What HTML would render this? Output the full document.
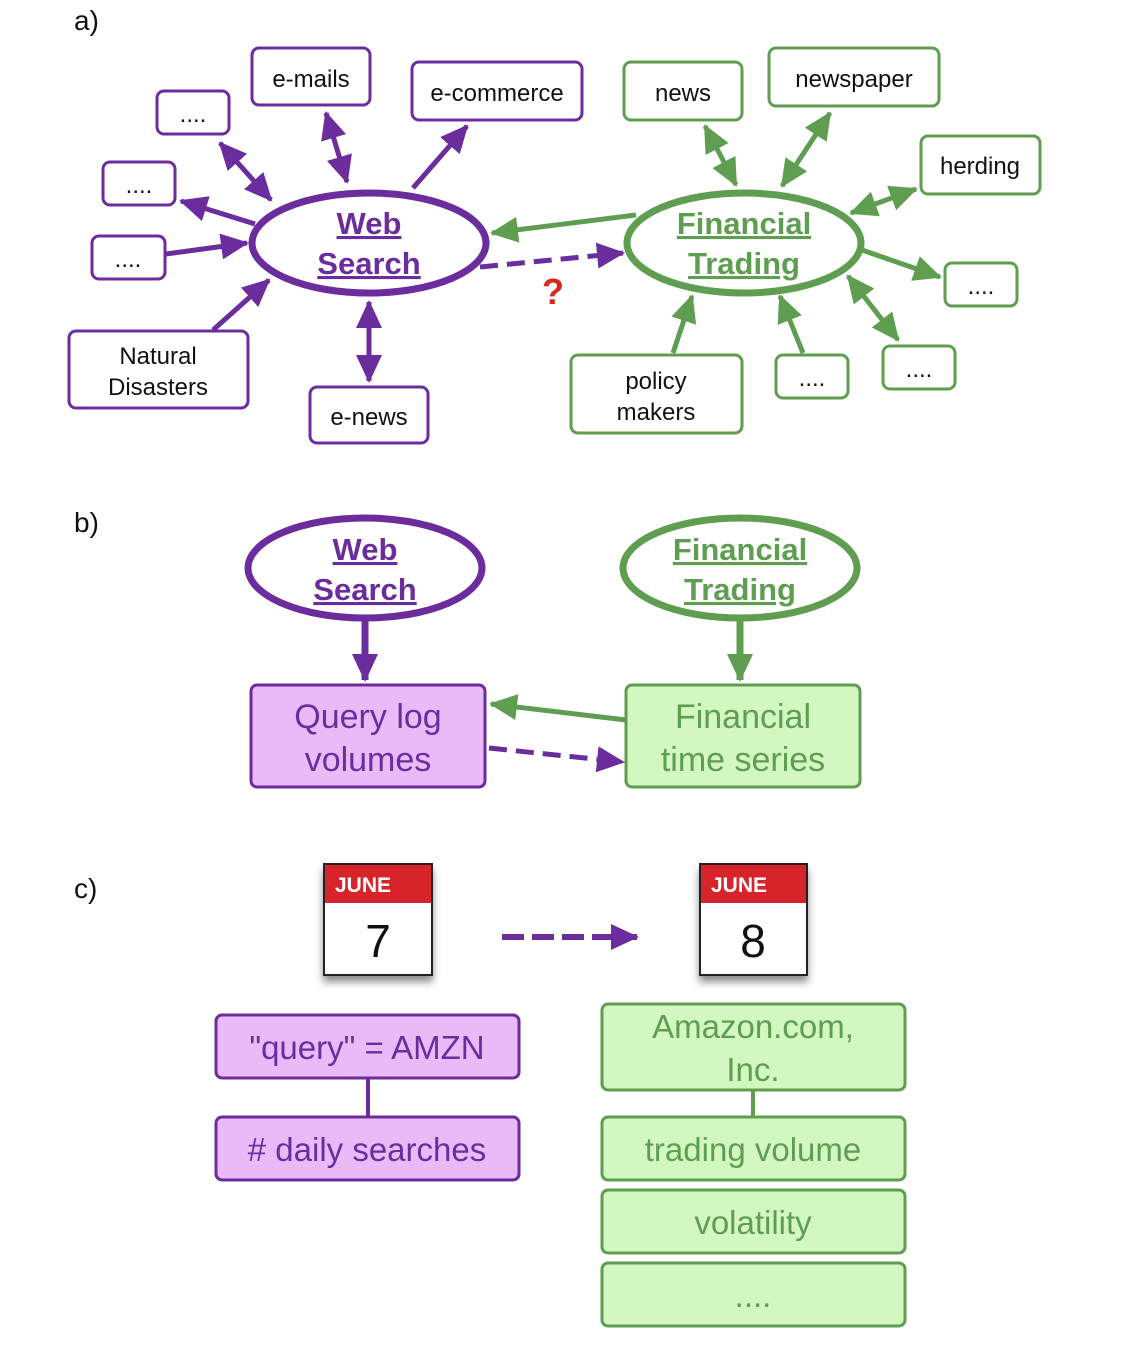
<!DOCTYPE html>
<html><head><meta charset="utf-8"><style>
html,body{margin:0;padding:0;background:#fff;}
svg{display:block;font-family:"Liberation Sans",Arial,sans-serif;}
.up{text-decoration:underline;fill:#6b2d9e;}
.ug{text-decoration:underline;fill:#5f9e51;}
</style></head><body>
<svg width="1126" height="1350" viewBox="0 0 1126 1350" xmlns="http://www.w3.org/2000/svg">
<defs>
<marker id="ap" markerUnits="userSpaceOnUse" markerWidth="32" markerHeight="30" refX="26" refY="13" orient="auto-start-reverse" viewBox="0 0 32 26"><path d="M0,0 L28,13 L0,26 z" fill="#6b2d9e"/></marker>
<marker id="ag" markerUnits="userSpaceOnUse" markerWidth="32" markerHeight="30" refX="26" refY="13" orient="auto-start-reverse" viewBox="0 0 32 26"><path d="M0,0 L28,13 L0,26 z" fill="#5f9e51"/></marker>
<filter id="sh" x="-20%" y="-20%" width="140%" height="150%"><feDropShadow dx="0" dy="6" stdDeviation="4" flood-color="#000" flood-opacity="0.45"/></filter>
</defs>
<g font-size="28" fill="#111">
<text x="74" y="30">a)</text><text x="74" y="532">b)</text><text x="74" y="898">c)</text>
</g>

<g fill="#fff" stroke="#6b2d9e" stroke-width="3">
<rect x="157" y="91" width="72" height="43" rx="7"/>
<rect x="252" y="48" width="118" height="57" rx="7"/>
<rect x="412" y="62" width="170" height="58" rx="7"/>
<rect x="103" y="162" width="72" height="43" rx="7"/>
<rect x="92" y="236" width="73" height="43" rx="7"/>
<rect x="69" y="331" width="179" height="77" rx="7"/>
<rect x="310" y="387" width="118" height="56" rx="7"/>
</g>
<g fill="#fff" stroke="#5f9e51" stroke-width="3">
<rect x="624" y="62" width="118" height="58" rx="7"/>
<rect x="769" y="48" width="170" height="58" rx="7"/>
<rect x="921" y="136" width="119" height="58" rx="7"/>
<rect x="945" y="263" width="72" height="43" rx="7"/>
<rect x="571" y="355" width="171" height="78" rx="7"/>
<rect x="776" y="355" width="72" height="43" rx="7"/>
<rect x="883" y="346" width="72" height="43" rx="7"/>
</g>
<g font-size="24" fill="#111" text-anchor="middle">
<text x="193" y="122">....</text>
<text x="311" y="87">e-mails</text>
<text x="497" y="101">e-commerce</text>
<text x="139" y="193">....</text>
<text x="128" y="267">....</text>
<text x="158" y="364">Natural</text><text x="158" y="395">Disasters</text>
<text x="369" y="425">e-news</text>
<text x="683" y="101">news</text>
<text x="854" y="87">newspaper</text>
<text x="980" y="174">herding</text>
<text x="981" y="294">....</text>
<text x="656" y="389">policy</text><text x="656" y="420">makers</text>
<text x="812" y="386">....</text>
<text x="919" y="377">....</text>
</g>

<g stroke="#6b2d9e" stroke-width="5" fill="none">
<line x1="220" y1="143" x2="271" y2="200" marker-start="url(#ap)" marker-end="url(#ap)"/>
<line x1="326" y1="113" x2="347" y2="182" marker-start="url(#ap)" marker-end="url(#ap)"/>
<line x1="413" y1="188" x2="467" y2="126" marker-end="url(#ap)"/>
<line x1="255" y1="224" x2="181" y2="201" marker-end="url(#ap)"/>
<line x1="166" y1="254" x2="247" y2="243" marker-end="url(#ap)"/>
<line x1="213" y1="330" x2="269" y2="280" marker-end="url(#ap)"/>
<line x1="369" y1="302" x2="369" y2="381" marker-start="url(#ap)" marker-end="url(#ap)"/>
<line x1="480" y1="267" x2="623" y2="253" stroke-dasharray="18,9" marker-end="url(#ap)"/>
</g>
<g stroke="#5f9e51" stroke-width="5" fill="none">
<line x1="636" y1="215" x2="492" y2="233" marker-end="url(#ag)"/>
<line x1="705" y1="126" x2="736" y2="185" marker-start="url(#ag)" marker-end="url(#ag)"/>
<line x1="782" y1="186" x2="830" y2="113" marker-start="url(#ag)" marker-end="url(#ag)"/>
<line x1="851" y1="213" x2="916" y2="189" marker-start="url(#ag)" marker-end="url(#ag)"/>
<line x1="862" y1="250" x2="940" y2="277" marker-end="url(#ag)"/>
<line x1="848" y1="276" x2="898" y2="340" marker-start="url(#ag)" marker-end="url(#ag)"/>
<line x1="803" y1="353" x2="780" y2="296" marker-end="url(#ag)"/>
<line x1="673" y1="353" x2="692" y2="296" marker-end="url(#ag)"/>
</g>
<text x="553" y="304" font-size="36" font-weight="bold" fill="#d42a1e" text-anchor="middle">?</text>

<ellipse cx="369" cy="243" rx="117" ry="50" fill="#fff" stroke="#6b2d9e" stroke-width="7"/>
<ellipse cx="744" cy="243" rx="117" ry="50" fill="#fff" stroke="#5f9e51" stroke-width="7"/>
<g font-size="31" font-weight="bold" text-anchor="middle">
<text x="369" y="234" class="up">Web</text><text x="369" y="274" class="up">Search</text>
<text x="744" y="234" class="ug">Financial</text><text x="744" y="274" class="ug">Trading</text>
</g>

<ellipse cx="365" cy="568" rx="117" ry="50" fill="#fff" stroke="#6b2d9e" stroke-width="7"/>
<ellipse cx="740" cy="568" rx="117" ry="50" fill="#fff" stroke="#5f9e51" stroke-width="7"/>
<g font-size="31" font-weight="bold" text-anchor="middle">
<text x="365" y="560" class="up">Web</text><text x="365" y="600" class="up">Search</text>
<text x="740" y="560" class="ug">Financial</text><text x="740" y="600" class="ug">Trading</text>
</g>
<line x1="365" y1="621" x2="365" y2="680" stroke="#6b2d9e" stroke-width="7" marker-end="url(#ap)"/>
<line x1="740" y1="621" x2="740" y2="680" stroke="#5f9e51" stroke-width="7" marker-end="url(#ag)"/>
<rect x="251" y="685" width="234" height="102" rx="6" fill="#eabaf8" stroke="#6b2d9e" stroke-width="3"/>
<rect x="626" y="685" width="234" height="102" rx="6" fill="#d3f7c1" stroke="#5f9e51" stroke-width="3"/>
<g font-size="34" text-anchor="middle">
<text x="368" y="728" fill="#6b2d9e">Query log</text><text x="368" y="771" fill="#6b2d9e">volumes</text>
<text x="743" y="728" fill="#5f9e51">Financial</text><text x="743" y="771" fill="#5f9e51">time series</text>
</g>
<line x1="626" y1="720" x2="491" y2="704" stroke="#5f9e51" stroke-width="5" marker-end="url(#ag)"/>
<line x1="489" y1="748" x2="623" y2="762" stroke="#6b2d9e" stroke-width="5" stroke-dasharray="18,9" marker-end="url(#ap)"/>

<g filter="url(#sh)">
<rect x="324" y="864" width="108" height="111" fill="#fff" stroke="#222" stroke-width="2"/>
<rect x="700" y="864" width="107" height="111" fill="#fff" stroke="#222" stroke-width="2"/>
</g>
<rect x="325" y="865" width="106" height="38" fill="#d8232a"/>
<rect x="701" y="865" width="105" height="38" fill="#d8232a"/>
<g font-size="21" font-weight="bold" fill="#fff"><text x="335" y="892">JUNE</text><text x="711" y="892">JUNE</text></g>
<g font-size="46" fill="#111" text-anchor="middle"><text x="378" y="957">7</text><text x="753" y="957">8</text></g>
<line x1="502" y1="937" x2="637" y2="937" stroke="#6b2d9e" stroke-width="6" stroke-dasharray="22,8" marker-end="url(#ap)"/>

<line x1="368" y1="1078" x2="368" y2="1117" stroke="#6b2d9e" stroke-width="4"/>
<line x1="753" y1="1090" x2="753" y2="1117" stroke="#5f9e51" stroke-width="4"/>
<g fill="#eabaf8" stroke="#6b2d9e" stroke-width="3">
<rect x="216" y="1015" width="303" height="63" rx="6"/>
<rect x="216" y="1117" width="303" height="63" rx="6"/>
</g>
<g fill="#d3f7c1" stroke="#5f9e51" stroke-width="3">
<rect x="602" y="1004" width="303" height="86" rx="6"/>
<rect x="602" y="1117" width="303" height="63" rx="6"/>
<rect x="602" y="1190" width="303" height="63" rx="6"/>
<rect x="602" y="1263" width="303" height="63" rx="6"/>
</g>
<g font-size="33" text-anchor="middle">
<text x="367" y="1059" fill="#6b2d9e">"query" = AMZN</text>
<text x="367" y="1161" fill="#6b2d9e"># daily searches</text>
<text x="753" y="1038" fill="#5f9e51">Amazon.com,</text>
<text x="753" y="1081" fill="#5f9e51">Inc.</text>
<text x="753" y="1161" fill="#5f9e51">trading volume</text>
<text x="753" y="1234" fill="#5f9e51">volatility</text>
<text x="753" y="1307" fill="#5f9e51">....</text>
</g>
</svg>
</body></html>
